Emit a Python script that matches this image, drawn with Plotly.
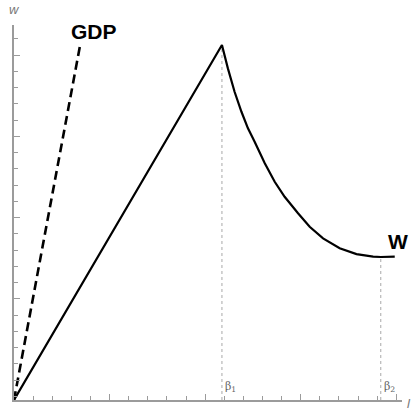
import plotly.graph_objects as go

# W curve (x and y in tick units)
w_x = [0, 10.88, 11.19, 11.54, 11.90, 12.24, 12.59, 13.12, 13.64, 14.16, 14.86, 15.47,
       16.17, 17.04, 17.92, 18.79, 19.19, 19.66, 19.92]
w_y = [0, 21.85, 20.41, 18.97, 17.74, 16.72, 15.90, 14.57, 13.43, 12.51, 11.49, 10.66,
       9.95, 9.34, 8.98, 8.82, 8.80, 8.82, 8.83]
gdp_x = [0, 3.48]
gdp_y = [0, 21.97]
beta_x = [10.88, 19.19]
beta_y = [21.85, 8.80]
beta_labels = ["β<sub>1</sub>", "β<sub>2</sub>"]

XMAX = 20.3
YMAX = 23.08
gray = "#9b9b9b"

fig = go.Figure()
for bx, by in zip(beta_x, beta_y):
    fig.add_trace(go.Scatter(x=[bx, bx], y=[0, by], mode="lines",
                             line=dict(color="#a8a8a8", width=1, dash="dot"),
                             hoverinfo="skip", showlegend=False))
fig.add_trace(go.Scatter(x=gdp_x, y=gdp_y, mode="lines",
                         line=dict(color="black", width=2.6, dash="9px,5px"),
                         showlegend=False))
fig.add_trace(go.Scatter(x=w_x, y=w_y, mode="lines",
                         line=dict(color="black", width=2.2),
                         showlegend=False))

for bx, lab in zip(beta_x, beta_labels):
    fig.add_annotation(x=bx, y=0.25, text=lab, showarrow=False,
                       xanchor="left", yanchor="bottom", xshift=1,
                       font=dict(family="DejaVu Serif", size=11, color="#666666"))

fig.add_annotation(x=gdp_x[1], y=gdp_y[1], text="<b>GDP</b>", showarrow=False,
                   xanchor="center", yanchor="bottom", xshift=13, yshift=-2,
                   font=dict(family="Liberation Sans", size=21, color="black"))
fig.add_annotation(x=w_x[-1], y=w_y[-1], text="<b>W</b>", showarrow=False,
                   xanchor="center", yanchor="bottom", xshift=3, yshift=2,
                   font=dict(family="Liberation Sans", size=21, color="black"))
fig.add_annotation(xref="paper", yref="paper", x=0.0, y=1.0, text="<i>w</i>",
                   showarrow=False, xanchor="center", yanchor="bottom", yshift=6,
                   font=dict(family="Liberation Sans", size=13, color="#777777"))
fig.add_annotation(xref="paper", yref="paper", x=1.0, y=0.0, text="<i>l</i>",
                   showarrow=False, xanchor="left", yanchor="middle", xshift=3, yshift=-3,
                   font=dict(family="Liberation Sans", size=13, color="#777777"))

fig.update_layout(
    width=414, height=409,
    margin=dict(l=14, r=12, t=25, b=9),
    paper_bgcolor="white", plot_bgcolor="white",
    xaxis=dict(range=[0, XMAX], showgrid=False, zeroline=False,
               showline=True, linecolor=gray, linewidth=1.5,
               ticks="inside", tick0=0, dtick=5, ticklen=6, tickcolor=gray, tickwidth=1,
               minor=dict(ticks="inside", dtick=1, ticklen=4, tickcolor=gray, showgrid=False),
               showticklabels=False),
    yaxis=dict(range=[0, YMAX], showgrid=False, zeroline=False,
               showline=True, linecolor=gray, linewidth=1.5,
               ticks="inside", tick0=1.2308, dtick=5, ticklen=6, tickcolor=gray, tickwidth=1,
               minor=dict(ticks="inside", tick0=1.2308, dtick=1, ticklen=4, tickcolor=gray, showgrid=False),
               showticklabels=False),
)

fig.write_html("out.html", config={"displayModeBar": False},
               post_script="document.body.style.margin='0';document.body.style.overflow='hidden';")
